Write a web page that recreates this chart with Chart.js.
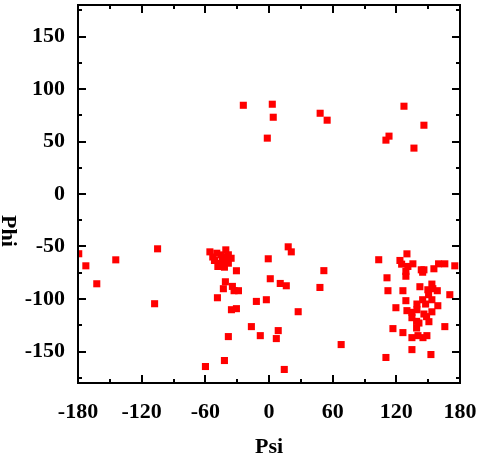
<!DOCTYPE html>
<html>
<head>
<meta charset="utf-8">
<script src="https://cdn.jsdelivr.net/npm/chart.js@4"></script>
<style>
  html, body { margin: 0; padding: 0; background: #fff; }
  #wrap { width: 480px; height: 455px; position: relative; }
</style>
</head>
<body>
<div id="wrap"><canvas id="c" width="480" height="455"></canvas></div>
<script>
// ---- data ----
const xTitle = "Psi";
const yTitle = "Phi";
const xTicks = [-180, -120, -60, 0, 60, 120, 180];
const xMinorTicks = [-150, -90, -30, 30, 90, 150];
const yTicks = [-150, -100, -50, 0, 50, 100, 150];
const yMinorTicks = [-175, -125, -75, -25, 25, 75, 125, 175];

const psiValues = [
  -179.3, -172.6, -162.3, -144.4, -105, -107.8,
  -24.2, 3.1, 4.0, -1.6, 48.2, 54.8, 127.2, 146, 113.1, 110.2, 136.6,
  -55.7, -40.7, -49.2, -51.4, -48.2, -38.3, -38.3, -43.9, -35.7, -42, -46, -43.5, -45, -53, -40,
  -30.7, -41.1, -43, -34.5, -32.9, -28.8, -48.6, -11.9, -2.5, -35.4, -30.7, -16.6, -8.2, 8.7, 6.9,
  -38.3, -42, -59.9, 14.4, 18.1, 21, -0.7, 1.2, 10.6, 16.3, 27.5, 51.7, 48, 68,
  130, 103.4, 123.4, 125, 135.6, 130.9, 143.5, 146, 144.8, 155.4, 159.8, 165.7, 175.1, 129, 129,
  111.2, 112.1, 126.2, 142.2, 153.5, 149.7, 154.4, 158.6, 150.4, 170.4, 129, 144.8, 153.5, 139.4,
  147.6, 159.1, 119.6, 130, 134.7, 139.4, 153.5, 146, 148.5, 134.7, 139.1, 141.3, 150.7, 139.1,
  116.8, 165.7, 126.2, 140.4, 148.8, 134.7, 145.1, 134.7, 152.6, 110.2
];
const phiValues = [
  -56.9, -68.4, -85.5, -62.7, -52.2, -104.5,
  84.5, 85.5, 73.1, 53.2, 76.9, 70.3, 83.6, 65.5, 55.1, 51.3, 43.7,
  -55.1, -53.2, -56.4, -63.3, -69, -65.9, -57.9, -62.1, -61.2, -69.7, -65.9, -67.4, -58, -60, -60,
  -73.1, -83.6, -90.2, -88, -92.1, -92.1, -98.8, -102.3, -100.7, -110.2, -109.2, -126.3, -134.9, -130.1, -137.7,
  -135.8, -158.6, -164.3, -167.1, -50.3, -55.1, -61.7, -80.7, -85.2, -87.4, -112.1, -73, -89, -143.4,
  -57, -62.6, -63.3, -66.8, -66.5, -69, -72.2, -72.2, -74.5, -71.2, -66.5, -66.5, -68.4, -73.8, -78.3,
  -79.8, -92.1, -92.1, -88.3, -85.8, -91.2, -90.2, -92.1, -95.9, -95.9, -101.6, -100.7, -100.7, -104.8,
  -104.8, -106.4, -108.3, -111.1, -112.7, -110.2, -112.2, -114.3, -116.8, -117.8, -121.3, -122.9, -121.6, -127.6,
  -128.2, -126.3, -132, -134.9, -134.9, -136.8, -136.8, -148.2, -152.9, -155.7
];

const points = psiValues.map((x, i) => ({ x: x, y: phiValues[i] }));
const FONT = "'Liberation Serif', 'DejaVu Serif', serif";

const framePlugin = {
  id: 'frame',
  afterDraw(chart) {
    const ctx = chart.ctx;
    const { left, right, top, bottom } = chart.chartArea;
    const xs = chart.scales.x, ys = chart.scales.y;
    ctx.save();
    ctx.strokeStyle = '#000';
    ctx.lineWidth = 2;
    ctx.beginPath();
    ctx.rect(left, top, right - left, bottom - top);
    ctx.stroke();
    ctx.beginPath();
    const drawX = (vals, len) => vals.forEach(v => {
      const p = Math.round(xs.getPixelForValue(v));
      ctx.moveTo(p, bottom); ctx.lineTo(p, bottom - len);
      ctx.moveTo(p, top); ctx.lineTo(p, top + len);
    });
    const drawY = (vals, len) => vals.forEach(v => {
      const p = Math.round(ys.getPixelForValue(v));
      ctx.moveTo(left, p); ctx.lineTo(left + len, p);
      ctx.moveTo(right, p); ctx.lineTo(right - len, p);
    });
    drawX(xTicks, 8); drawX(xMinorTicks, 4);
    drawY(yTicks, 8); drawY(yMinorTicks, 4);
    ctx.stroke();
    // rotated y title (reads top to bottom)
    ctx.fillStyle = '#000';
    ctx.font = "bold 22px " + FONT;
    ctx.textAlign = 'center';
    ctx.textBaseline = 'alphabetic';
    ctx.translate(2, 231);
    ctx.rotate(Math.PI / 2);
    ctx.fillText(yTitle, 0, 0);
    ctx.restore();
  }
};

new Chart(document.getElementById('c'), {
  type: 'scatter',
  data: {
    datasets: [{
      data: points,
      pointStyle: 'rect',
      radius: 5,
      hoverRadius: 5,
      backgroundColor: '#ff0000',
      borderWidth: 0
    }]
  },
  options: {
    responsive: false,
    animation: false,
    devicePixelRatio: 1,
    layout: { padding: { top: 1, right: 20, left: 0, bottom: 0 } },
    plugins: { legend: { display: false }, tooltip: { enabled: false } },
    scales: {
      x: {
        type: 'linear',
        min: -180, max: 180,
        afterBuildTicks(s) { s.ticks = xTicks.map(v => ({ value: v })); },
        afterFit(s) { s.height = 72; s.paddingLeft = 0; s.paddingRight = 0; },
        grid: { display: false, drawTicks: false },
        border: { display: false },
        ticks: {
          color: '#000', padding: 16, maxRotation: 0, autoSkip: false,
          font: { family: FONT, size: 22, weight: 'bold' }
        },
        title: {
          display: true, text: xTitle, color: '#000',
          padding: { top: 0, bottom: -6 },
          font: { family: FONT, size: 22, weight: 'bold' }
        }
      },
      y: {
        type: 'linear',
        min: -180, max: 180,
        afterBuildTicks(s) { s.ticks = yTicks.map(v => ({ value: v })); },
        afterFit(s) { s.width = 78; s.paddingTop = 0; s.paddingBottom = 0; },
        grid: { display: false, drawTicks: false },
        border: { display: false },
        ticks: {
          color: '#000', padding: 13, autoSkip: false,
          font: { family: FONT, size: 22, weight: 'bold' }
        }
      }
    }
  },
  plugins: [framePlugin]
});
</script>
</body>
</html>
